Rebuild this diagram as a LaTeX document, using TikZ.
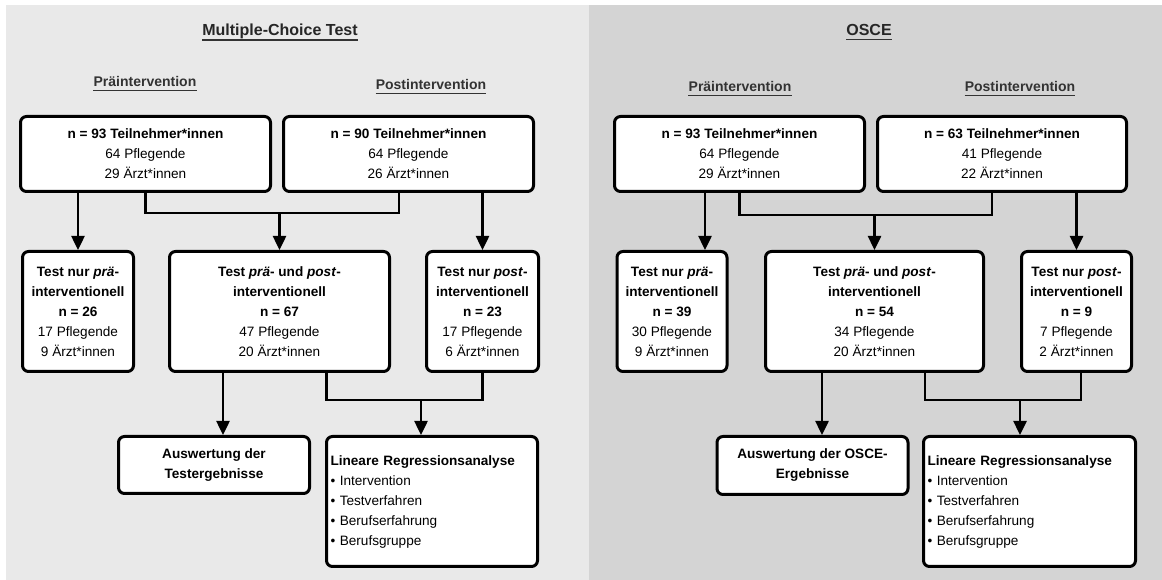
\documentclass[tikz,border=0pt]{standalone}
\usepackage{fontspec}
\setmainfont{Liberation Sans}
\usetikzlibrary{arrows.meta}
\definecolor{mcgray}{HTML}{E9E9E9}
\definecolor{osgray}{HTML}{D4D4D4}

\begin{document}
\begin{tikzpicture}[x=1pt,y=1pt,
	box/.style={draw,line width=3pt,rounded corners=6pt,fill=white,align=center,
		inner sep=3pt,font=\fontsize{13.6}{20}\selectfont},
	listbox/.style={box,align=left,inner xsep=4pt},
	heading/.style={font=\fontsize{16}{19}\selectfont\bfseries,text=black!85,
		inner sep=0pt,text depth=4pt},
	phase/.style={heading,font=\fontsize{14}{17}\selectfont\bfseries,text=black!80},
	uline/.style={line width=1.2pt,black!80},
	link/.style={line width=2.5pt},
	arr/.style={link,-{Triangle[length=14pt,width=13pt]}}]
	\useasboundingbox (0,0) rectangle (1162,580);
	\fill[mcgray] (6,0) rectangle (589,575);
	\fill[osgray] (589,0) rectangle (1162,575);

	\node[heading] (mcTitle) at (280,548) {Multiple-Choice Test};
	\node[phase] (mcPre) at (145,497) {Präintervention};
	\node[phase] (mcPost) at (431,494) {Postintervention};
	\foreach \t in {mcTitle,mcPre,mcPost}
		\draw[uline] (\t.south west) -- (\t.south east);
	\node[box,minimum width=250pt,minimum height=75pt] (mcA1) at (145.5,426)
	{\textbf{n = 93 Teilnehmer*innen}\\64 Pflegende\\29 Ärzt*innen};
	\node[box,minimum width=250pt,minimum height=75pt] (mcA2) at (408.5,426)
	{\textbf{n = 90 Teilnehmer*innen}\\64 Pflegende\\26 Ärzt*innen};
	\node[box,minimum width=111pt,minimum height=120pt] (mcB1) at (78,268.5)
	{\textbf{Test nur \textit{prä}-}\\\textbf{interventionell}\\\textbf{n = 26}\\17 Pflegende\\9 Ärzt*innen};
	\node[box,minimum width=220pt,minimum height=120pt] (mcB2) at (279.5,268.5)
	{\textbf{Test \textit{prä}- und \textit{post}-}\\\textbf{interventionell}\\\textbf{n = 67}\\47 Pflegende\\20 Ärzt*innen};
	\node[box,minimum width=112pt,minimum height=120pt] (mcB3) at (482.5,268.5)
	{\textbf{Test nur \textit{post}-}\\\textbf{interventionell}\\\textbf{n = 23}\\17 Pflegende\\6 Ärzt*innen};
	\node[box,minimum width=191pt,minimum height=57pt] (mcC1) at (214,115)
	{\textbf{Auswertung der}\\\textbf{Testergebnisse}};
	\node[listbox,text width=203pt,minimum height=130pt] (mcC2) at (432,78.5)
	{\textbf{Lineare Regressionsanalyse}\\• Intervention\\• Testverfahren\\• Berufserfahrung\\• Berufsgruppe};

	\draw[arr] (mcA1.south -| mcB1.north) -- (mcB1.north);
	\draw[link] (mcA1.south) -- ++(0,-20) coordinate (mcJoinTop) -| ([xshift=-9.5pt]mcA2.south);
	\draw[arr] (mcJoinTop -| mcB2.north) -- (mcB2.north);
	\draw[arr] (mcA2.south -| mcB3.north) -- (mcB3.north);
	\coordinate (mcOutL) at ([xshift=-56.5pt]mcB2.south);
	\draw[arr] (mcOutL) -- (mcOutL |- mcC1.north);
	\draw[link] ([xshift=47pt]mcB2.south) -- ++(0,-27) -- ++(94.5,0) coordinate (mcJoinBot) -| (mcB3.south);
	\draw[arr] (mcJoinBot) -- (mcJoinBot |- mcC2.north);

	\node[heading] (osTitle) at (869,548) {OSCE};
	\node[phase] (osPre) at (740,492) {Präintervention};
	\node[phase] (osPost) at (1020,492) {Postintervention};
	\foreach \t in {osTitle,osPre,osPost}
		\draw[uline] (\t.south west) -- (\t.south east);
	\node[box,minimum width=250pt,minimum height=75pt] (osA1) at (739.5,426)
	{\textbf{n = 93 Teilnehmer*innen}\\64 Pflegende\\29 Ärzt*innen};
	\node[box,minimum width=249pt,minimum height=75pt] (osA2) at (1002,426)
	{\textbf{n = 63 Teilnehmer*innen}\\41 Pflegende\\22 Ärzt*innen};
	\node[box,minimum width=110pt,minimum height=120pt] (osB1) at (672,268.5)
	{\textbf{Test nur \textit{prä}-}\\\textbf{interventionell}\\\textbf{n = 39}\\30 Pflegende\\9 Ärzt*innen};
	\node[box,minimum width=218pt,minimum height=120pt] (osB2) at (874.5,268.5)
	{\textbf{Test \textit{prä}- und \textit{post}-}\\\textbf{interventionell}\\\textbf{n = 54}\\34 Pflegende\\20 Ärzt*innen};
	\node[box,minimum width=110pt,minimum height=120pt] (osB3) at (1076.5,268.5)
	{\textbf{Test nur \textit{post}-}\\\textbf{interventionell}\\\textbf{n = 9}\\7 Pflegende\\2 Ärzt*innen};
	\node[box,minimum width=191pt,minimum height=58pt] (osC1) at (812.5,114.5)
	{\textbf{Auswertung der OSCE-}\\\textbf{Ergebnisse}};
	\node[listbox,text width=204pt,minimum height=130pt] (osC2) at (1029.5,78.5)
	{\textbf{Lineare Regressionsanalyse}\\• Intervention\\• Testverfahren\\• Berufserfahrung\\• Berufsgruppe};

	\coordinate (osPreOut) at ([xshift=-34.5pt]osA1.south);
	\draw[arr] (osPreOut) -- (osPreOut |- osB1.north);
	\draw[link] (osA1.south) -- ++(0,-22) coordinate (osJoinTop) -| ([xshift=-10pt]osA2.south);
	\draw[arr] (osJoinTop -| osB2.north) -- (osB2.north);
	\draw[arr] (osA2.south -| osB3.north) -- (osB3.north);
	\coordinate (osOutL) at ([xshift=-52.5pt]osB2.south);
	\draw[arr] (osOutL) -- (osOutL |- osC1.north);
	\draw[link] ([xshift=50.5pt]osB2.south) -- ++(0,-27) -- ++(95,0) coordinate (osJoinBot) -| ([xshift=4.5pt]osB3.south);
	\draw[arr] (osJoinBot) -- (osJoinBot |- osC2.north);
\end{tikzpicture}
\end{document}
